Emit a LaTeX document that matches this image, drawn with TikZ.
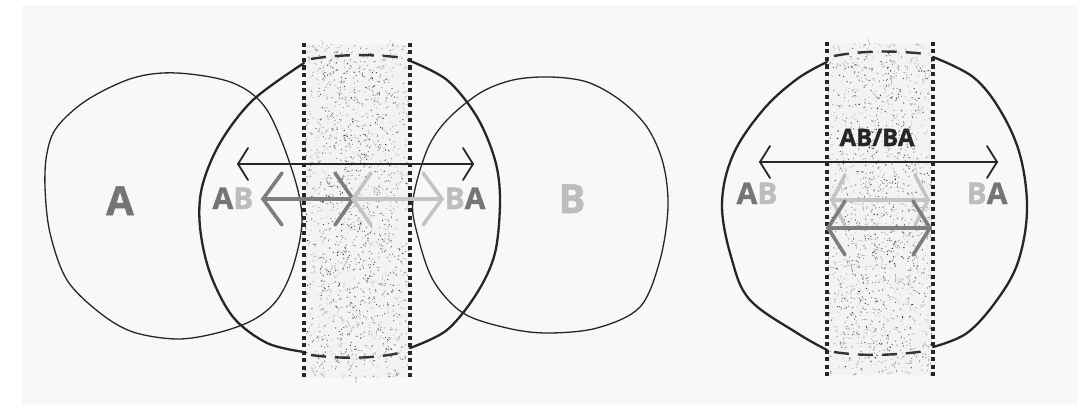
\documentclass[tikz,border=0pt]{standalone}
\usepackage{fontspec}
\setmainfont{Open Sans}[BoldFeatures={FakeBold=1.3}]
\usetikzlibrary{calc}
\definecolor{bgray}{HTML}{F8F8F8}
\definecolor{Adark}{HTML}{757575}
\definecolor{Blight}{HTML}{BDBDBD}
\definecolor{arrdark}{HTML}{7E7E7E}
\definecolor{arrlight}{HTML}{C4C4C4}
\definecolor{bandfill}{HTML}{F3F3F3}
\tikzset{
  thinblob/.style={draw=black!85, line width=1.3pt},
  thickblob/.style={draw=black!85, line width=2.3pt, line cap=round},
  bandedge/.style={draw=black!85, line width=3.2pt, dash pattern=on 4pt off 3.5pt},
  bandarc/.style={draw=black!80, line width=2.4pt, dash pattern=on 15pt off 9pt},
  blackarr/.style={draw=black!85, line width=1.8pt, line cap=round, line join=miter},
  grayarrD/.style={draw=arrdark, line width=3.6pt, line cap=round, line join=miter},
  grayarrL/.style={draw=arrlight, line width=3.6pt, line cap=round, line join=miter},
  lblbig/.style={font=\bfseries\fontsize{40}{40}\selectfont, inner sep=0pt, anchor=base},
  lblmid/.style={font=\bfseries\fontsize{30}{30}\selectfont, inner sep=0pt, anchor=base},
  lbltop/.style={font=\bfseries\fontsize{24}{24}\selectfont, inner sep=0pt, anchor=base, text=black!85},
}
\newcommand{\speckleband}[4]{% x0 width y0 height
  \fill[bandfill] (#1,#3) rectangle ++(#2,#4);
  \foreach \i in {1,...,1100}{
    \pgfmathsetmacro\px{#1+#2*rnd}
    \pgfmathsetmacro\py{#3+#4*rnd}
    \pgfmathsetmacro\pc{int(20+75*rnd*rnd)}
    \fill[black!\pc] (\px,\py) circle (0.7pt);
  }
  \foreach \i in {1,...,500}{
    \pgfmathsetmacro\px{#1+15+(#2-30)*rnd}
    \pgfmathsetmacro\py{#3+15+(#4-30)*rnd}
    \pgfmathsetmacro\pc{int(40+55*rnd)}
    \fill[black!\pc] (\px,\py) circle (0.6pt);
  }
  \foreach \i in {1,...,120}{
    \pgfmathsetmacro\px{#1+6+(#2-12)*rnd}
    \pgfmathsetmacro\py{#3+#4*rnd}
    \pgfmathsetmacro\ang{360*rnd}
    \pgfmathsetmacro\pc{int(15+30*rnd)}
    \draw[black!\pc, line width=0.4pt] (\px,\py) -- ++(\ang:6pt);
  }
}
\begin{document}
\begin{tikzpicture}[x=1pt,y=-1pt]
\useasboundingbox (0,0) rectangle (1078,404);
\fill[white] (0,0) rectangle (1078,404);
\fill[bgray] (22,5) rectangle (1078,404);
\pgfmathsetseed{4242}

% ---------- speckled bands ----------
\speckleband{305}{104}{44}{334}
\speckleband{828}{104}{43}{332}

% ---------- left diagram ----------
% circle A
\draw[thinblob] plot[smooth cycle, tension=0.55] coordinates {
  (177,73) (233,83) (267,110) (293,173) (302,220) (293,267) (277,300) (253,320)
  (217,333) (177,339) (133,332) (100,313) (67,280) (50,233) (45,187) (47,153)
  (57,127) (87,100) (133,78)};
% circle B
\draw[thinblob] plot[smooth cycle, tension=0.55] coordinates {
  (550,77) (587,82) (620,100) (647,127) (663,163) (668,207) (660,260) (640,307)
  (597,328) (547,333) (507,328) (463,313) (433,280) (417,233) (413,200) (427,150)
  (447,120) (480,93) (513,80)};
% middle thick circle, outside the band
\draw[thickblob] plot[smooth, tension=0.55] coordinates {
  (304,63) (253,100) (220,143) (202,187) (200,227) (210,273) (233,317) (267,343) (304,352)};
\draw[thickblob] plot[smooth, tension=0.55] coordinates {
  (408,60) (447,80) (477,117) (495,160) (500,200) (495,253) (477,293) (447,330) (410,348)};
% middle thick circle, inside the band (dashed)
\draw[bandarc] (311,59) .. controls (340,54) and (375,54) .. (404,58);
\draw[bandarc] (311,355) .. controls (340,359) and (375,359) .. (404,352);
% band edges
\coordinate (l1t) at (304,43); \coordinate (l1b) at (304,378);
\coordinate (l2t) at (410,43); \coordinate (l2b) at (410,378);
\draw[bandedge] (l1t) -- (l1b);
\draw[bandedge] (l2t) -- (l2b);

% long black arrow
\coordinate (bl) at (238,164); \coordinate (br) at (473,164);
\draw[blackarr] (bl) -- (br);
\draw[blackarr] ($(bl)+(10,-16)$) -- (bl) -- ($(bl)+(10,16)$);
\draw[blackarr] ($(br)+(-10,-16)$) -- (br) -- ($(br)+(-10,16)$);

% dark gray arrow (A side)
\coordinate (dl) at (263,199); \coordinate (dr) at (353,199);
\draw[grayarrD] (dl) -- (dr);
\draw[grayarrD] ($(dl)+(19,-26)$) -- (dl) -- ($(dl)+(19,26)$);
\draw[grayarrD] ($(dr)+(-18,-26)$) -- (dr) -- ($(dr)+(-18,26)$);
% light gray arrow (B side)
\coordinate (ll) at (353,199); \coordinate (lr) at (442,199);
\draw[grayarrL] (ll) -- (lr);
\draw[grayarrL] ($(ll)+(18,-26)$) -- (ll) -- ($(ll)+(18,26)$);
\draw[grayarrL] ($(lr)+(-19,-26)$) -- (lr) -- ($(lr)+(-19,26)$);

% labels
\node[lblbig, text=Adark] (labA) at (120,215) {A};
\node[lblbig, text=Blight] (labB) at (572,213) {B};
\node[lblmid] (labAB) at (233,209) {\textcolor{Adark}{A}\textcolor{Blight}{B}};
\node[lblmid] (labBA) at (465,209) {\textcolor{Blight}{B}\textcolor{Adark}{A}};

% ---------- right diagram ----------
\draw[thickblob] plot[smooth, tension=0.6] coordinates {
  (827,62) (797,79) (763,110) (733,155) (722,205) (732,260) (750,300) (797,333) (827,350)};
\draw[thickblob] plot[smooth, tension=0.6] coordinates {
  (933,57) (973,77) (1000,110) (1020,155) (1027,210) (1018,262) (997,300) (967,333) (933,347)};
\draw[bandarc] (834,56) .. controls (860,51) and (890,50) .. (926,54);
\draw[bandarc] (834,352) .. controls (860,356) and (890,356) .. (926,351);
\coordinate (r1t) at (827,42); \coordinate (r1b) at (827,376);
\coordinate (r2t) at (933,42); \coordinate (r2b) at (933,376);
\draw[bandedge] (r1t) -- (r1b);
\draw[bandedge] (r2t) -- (r2b);

% long black arrow
\coordinate (Rbl) at (760,162); \coordinate (Rbr) at (997,162);
\draw[blackarr] (Rbl) -- (Rbr);
\draw[blackarr] ($(Rbl)+(10,-16)$) -- (Rbl) -- ($(Rbl)+(10,16)$);
\draw[blackarr] ($(Rbr)+(-10,-16)$) -- (Rbr) -- ($(Rbr)+(-10,16)$);

% light gray arrow
\coordinate (Rll) at (832,200); \coordinate (Rlr) at (928,200);
\draw[grayarrL] (Rll) -- (Rlr);
\draw[grayarrL] ($(Rll)+(13,-25)$) -- (Rll) -- ($(Rll)+(13,25)$);
\draw[grayarrL] ($(Rlr)+(-13,-25)$) -- (Rlr) -- ($(Rlr)+(-13,25)$);
% dark gray arrow
\coordinate (Rdl) at (828,228); \coordinate (Rdr) at (930,228);
\draw[grayarrD] (Rdl) -- (Rdr);
\draw[grayarrD] ($(Rdl)+(17,-27)$) -- (Rdl) -- ($(Rdl)+(17,27)$);
\draw[grayarrD] ($(Rdr)+(-17,-27)$) -- (Rdr) -- ($(Rdr)+(-17,27)$);

% labels
\node[lbltop] (labABBA) at (877,146) {AB/BA};
\node[lblmid] (RlabAB) at (757,204) {\textcolor{Adark}{A}\textcolor{Blight}{B}};
\node[lblmid] (RlabBA) at (987,204) {\textcolor{Blight}{B}\textcolor{Adark}{A}};
\end{tikzpicture}
\end{document}
